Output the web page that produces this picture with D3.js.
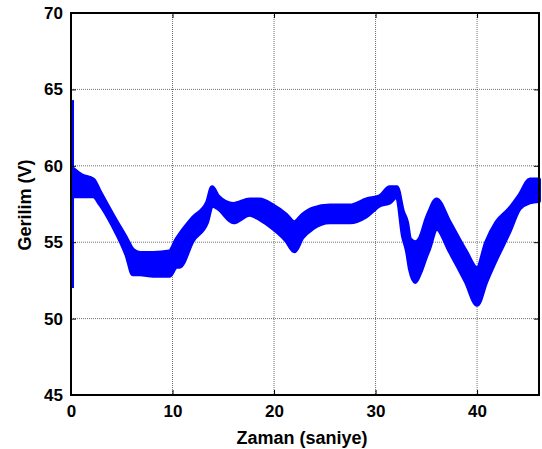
<!DOCTYPE html>
<html>
<head>
<meta charset="utf-8">
<script src="https://cdn.jsdelivr.net/npm/d3@7"></script>
<style>
  body { margin: 0; background: #fff; }
  text { font-family: "Liberation Sans", Arial, sans-serif; font-weight: bold; }
</style>
</head>
<body>
<svg id="chart" width="542" height="449"></svg>
<script>
// Zaman (saniye) ve gerilim zarfi (ust / alt)
const zaman = [0.2, 1.0, 2.2, 2.85, 4.1, 5.5, 6.1, 6.8, 8.1, 9.7, 10.4, 10.7, 12.0, 13.4, 13.9, 14.5, 16.0, 17.6, 18.6, 19.9, 21.2, 22.0, 22.8, 23.8, 25.5, 27.5, 29.1, 30.4, 31.4, 32.1, 32.7, 33.1, 33.4, 33.9, 34.4, 35.0, 35.3, 36.0, 37.3, 38.9, 40.0, 40.9, 41.9, 43.2, 44.2, 45.2, 46.1];
const ustGerilim = [59.8, 59.4, 59.1, 58.3, 56.8, 55.2, 54.5, 54.3, 54.3, 54.4, 55.2, 55.5, 56.6, 57.6, 58.6, 58.0, 57.5, 57.8, 57.8, 57.4, 56.8, 56.3, 56.8, 57.2, 57.4, 57.4, 57.8, 58.0, 58.6, 58.6, 57.0, 56.3, 55.2, 55.0, 55.3, 56.5, 57.0, 57.8, 56.3, 54.4, 53.3, 55.0, 56.3, 57.2, 58.1, 59.1, 59.1];
const altGerilim = [58.0, 58.0, 58.0, 57.5, 56.1, 54.1, 52.9, 52.9, 52.8, 52.8, 53.4, 53.4, 55.1, 56.3, 57.4, 57.2, 56.3, 56.8, 56.5, 55.9, 55.1, 54.4, 55.3, 55.9, 56.3, 56.3, 56.7, 57.4, 57.6, 58.0, 55.4, 54.4, 53.2, 52.4, 53.0, 54.1, 54.6, 55.9, 54.4, 52.4, 50.9, 52.4, 53.9, 55.7, 57.2, 57.6, 57.7];
// Baslangictaki ani sicrama
const sicrama = [52.0, 64.3];
const xTicks = [0, 10, 20, 30, 40];
const yTicks = [45, 50, 55, 60, 65, 70];

const svg = d3.select("#chart");
const m = { left: 71, right: 539, top: 13, bottom: 395 };

const x = d3.scaleLinear().domain([0, 46.1]).range([m.left, m.right]);
const y = d3.scaleLinear().domain([45, 70]).range([m.bottom, m.top]);

// Izgara
svg.append("g").selectAll("line").data(xTicks.slice(1)).enter().append("line")
  .attr("x1", d => x(d)).attr("x2", d => x(d))
  .attr("y1", m.top).attr("y2", m.bottom)
  .attr("stroke", "#707070").attr("stroke-width", 1).attr("stroke-dasharray", "1,1");
svg.append("g").selectAll("line").data(yTicks.slice(1, -1)).enter().append("line")
  .attr("x1", m.left).attr("x2", m.right)
  .attr("y1", d => y(d)).attr("y2", d => y(d))
  .attr("stroke", "#707070").attr("stroke-width", 1).attr("stroke-dasharray", "1,1");

// Gerilim bandi
const band = zaman.map((t, i) => ({ t: t, ust: ustGerilim[i], alt: altGerilim[i] }));
const area = d3.area()
  .x(d => x(d.t))
  .y0(d => y(d.alt))
  .y1(d => y(d.ust))
  .curve(d3.curveMonotoneX);

svg.append("path")
  .datum(band)
  .attr("d", area)
  .attr("fill", "#0000ff")
  .attr("stroke", "#0000ff")
  .attr("stroke-width", 4)
  .attr("stroke-linejoin", "round");

svg.append("line")
  .attr("x1", x(0) + 1.5).attr("x2", x(0) + 1.5)
  .attr("y1", y(sicrama[0])).attr("y2", y(sicrama[1]))
  .attr("stroke", "#0000ff").attr("stroke-width", 3);

// Eksenler (MATLAB tarzi kutu, iceri dogru cizgiler)
const xAxis = d3.axisBottom(x).tickValues(xTicks).tickSizeInner(-5).tickSizeOuter(0).tickPadding(8);
const yAxis = d3.axisLeft(y).tickValues(yTicks).tickSizeInner(-5).tickSizeOuter(0).tickPadding(8);

const gx = svg.append("g").attr("transform", `translate(0,${m.bottom})`).call(xAxis);
const gy = svg.append("g").attr("transform", `translate(${m.left},0)`).call(yAxis);
[gx, gy].forEach(g => {
  g.select(".domain").remove();
  g.selectAll("line").attr("stroke", "#000");
  g.selectAll("text").attr("font-size", 17).attr("fill", "#000");
});
gx.selectAll("text").attr("dy", "0.85em");

svg.append("g").attr("transform", `translate(0,${m.top})`)
  .call(d3.axisTop(x).tickValues(xTicks).tickSizeInner(-5).tickSizeOuter(0).tickFormat(""))
  .call(g => g.select(".domain").remove());
svg.append("g").attr("transform", `translate(${m.right},0)`)
  .call(d3.axisRight(y).tickValues(yTicks).tickSizeInner(-5).tickSizeOuter(0).tickFormat(""))
  .call(g => g.select(".domain").remove());

svg.append("rect")
  .attr("x", m.left).attr("y", m.top)
  .attr("width", m.right - m.left).attr("height", m.bottom - m.top)
  .attr("fill", "none").attr("stroke", "#000").attr("stroke-width", 2);

// Eksen basliklari
svg.append("text")
  .attr("x", (m.left + m.right) / 2 - 3).attr("y", 444)
  .attr("text-anchor", "middle").attr("font-size", 18)
  .text("Zaman (saniye)");
svg.append("text")
  .attr("transform", "translate(31,205) rotate(-90)")
  .attr("text-anchor", "middle").attr("font-size", 18)
  .text("Gerilim (V)");
</script>
</body>
</html>
